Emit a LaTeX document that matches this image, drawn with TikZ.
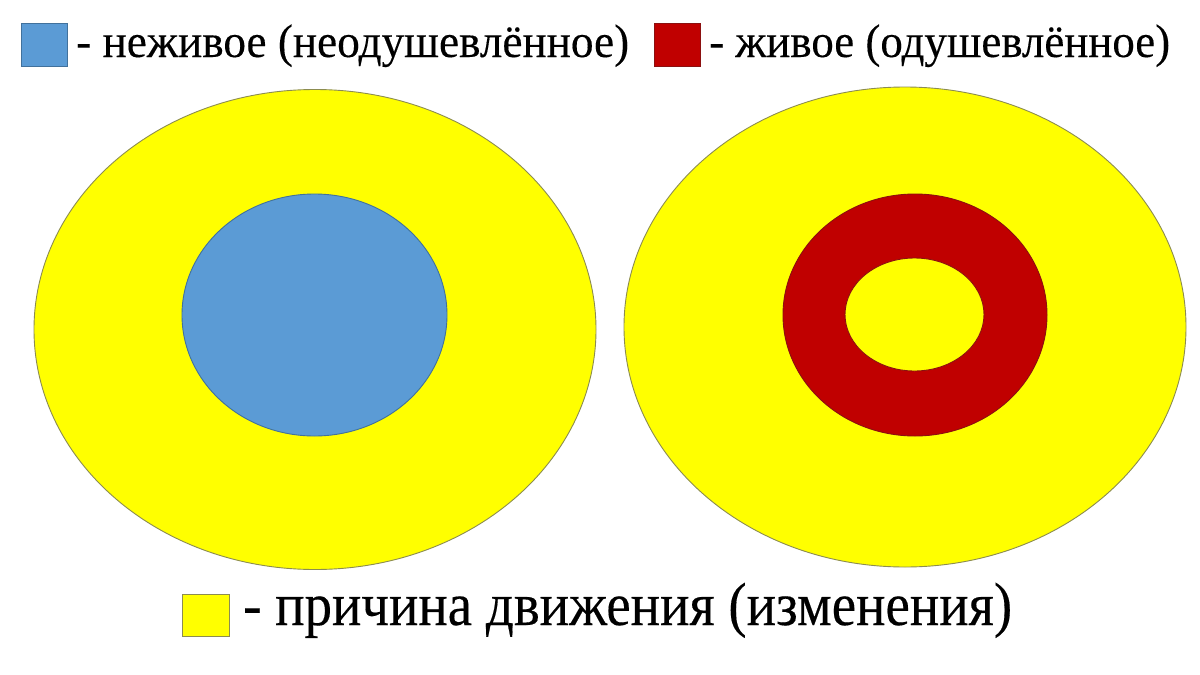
\documentclass[tikz,border=0pt]{standalone}
\usepackage{fontspec}
\usepackage{graphicx}
\setmainfont{Liberation Serif}
\newfontfamily\tnr[FakeBold=0.25]{Liberation Serif}
\newcommand\fitto[2]{\sbox0{#2}\scalebox{\fpeval{#1/(\the\wd0)}}[1]{\usebox0}}
\definecolor{yel}{HTML}{FFFF00}
\definecolor{blu}{HTML}{5B9BD5}
\definecolor{rd}{HTML}{C00000}
\definecolor{yedge}{HTML}{8C8C50}
\definecolor{bedge}{HTML}{41719C}
\definecolor{redge}{HTML}{8B1010}
\tikzset{
  yshape/.style={fill=yel, draw=yedge, line width=0.9pt},
  bshape/.style={fill=blu, draw=bedge, line width=0.9pt},
  rshape/.style={fill=rd, draw=redge, line width=0.9pt},
  legtext/.style={anchor=base west, inner sep=0pt, text=black}
}
\begin{document}
\begin{tikzpicture}[x=1pt,y=-1pt]
\useasboundingbox (0,0) rectangle (1200,675);
\fill[white] (0,0) rectangle (1200,675);
% left diagram
\draw[yshape] (315,329.5) ellipse [x radius=281pt, y radius=240pt];
\draw[bshape] (314.5,315) ellipse [x radius=132.5pt, y radius=121pt];
% right diagram
\draw[yshape] (905,327) ellipse [x radius=281pt, y radius=240pt];
\draw[rshape] (915,315) ellipse [x radius=132pt, y radius=121pt];
\draw[yshape, draw=redge] (914.5,314.5) ellipse [x radius=69.5pt, y radius=56.5pt];
% legend squares
\draw[bshape] (21,23) rectangle (67,66);
\draw[rshape] (654,23) rectangle (700,66);
\draw[yshape] (182,594) rectangle (229,636);
% legend texts
\node[legtext, font=\tnr\fontsize{47}{52}\selectfont] (t1) at (76,57) {\fitto{553}{- неживое (неодушевлённое)}};
\node[legtext, font=\tnr\fontsize{47}{52}\selectfont] (t2) at (709,57) {\fitto{461}{- живое (одушевлённое)}};
\node[legtext, font=\tnr\fontsize{61}{66}\selectfont] (t3) at (243,625) {\fitto{769}{- причина движения (изменения)}};
\end{tikzpicture}
\end{document}
